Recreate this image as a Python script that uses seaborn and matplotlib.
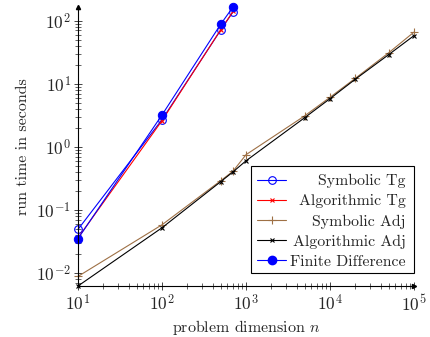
import numpy as np
import pandas as pd
import matplotlib
matplotlib.use("Agg")
import matplotlib.pyplot as plt
from matplotlib.lines import Line2D
from matplotlib.patches import Rectangle
import seaborn as sns
from matplotlib.ticker import LogLocator, NullFormatter, LogFormatterMathtext

# ---- data ----
n_tg = [10, 100, 500, 700]
symbolic_tg = [0.049, 2.7, 71, 138]
algorithmic_tg = [0.036, 2.6, 72, 140]
finite_diff = [0.035, 3.2, 88, 165]

n_adj = [10, 100, 500, 700, 1000, 5000, 10000, 20000, 50000, 100000]
symbolic_adj = [0.0088, 0.058, 0.29, 0.41, 0.75, 3.1, 6.1, 12.2, 31, 66]
algorithmic_adj = [0.0062, 0.052, 0.28, 0.40, 0.60, 2.9, 5.8, 11.8, 29, 58]

labels = ["Symbolic Tg", "Algorithmic Tg", "Symbolic Adj", "Algorithmic Adj", "Finite Difference"]

sns.set_style("white")
plt.rcParams["font.family"] = ["cmr10", "DejaVu Serif"]
plt.rcParams["mathtext.fontset"] = "cm"
plt.rcParams["axes.unicode_minus"] = False
plt.rcParams["axes.formatter.use_mathtext"] = True

W, H = 430, 337
fig = plt.figure(figsize=(W/100, H/100), dpi=100)
ax = fig.add_axes([78/W, 1-286/H, (414-78)/W, (286-7)/H])

brown = (0.62, 0.44, 0.27)
lw = 0.8
styles = [
    dict(color="blue", marker="o", markersize=5.5, markerfacecolor="none", markeredgecolor="blue", markeredgewidth=0.8),
    dict(color="red", marker="x", markersize=3.5, markeredgecolor="red", markeredgewidth=0.8),
    dict(color=brown, marker="+", markersize=6, markeredgecolor=brown, markeredgewidth=0.8),
    dict(color="black", marker="x", markersize=3.5, markeredgecolor="black", markeredgewidth=0.8),
    dict(color="blue", marker="o", markersize=6, markerfacecolor="blue", markeredgecolor="blue"),
]
series = [(n_tg, symbolic_tg), (n_tg, algorithmic_tg), (n_adj, symbolic_adj),
          (n_adj, algorithmic_adj), (n_tg, finite_diff)]

for (xs, ys), st in zip(series, styles):
    sns.lineplot(x=xs, y=ys, ax=ax, linewidth=lw, clip_on=False, legend=False, **st)

ax.set_xscale("log")
ax.set_yscale("log")
ax.set_xlim(10, 1e5)
ax.set_ylim(0.0062, 165)

for s in ["top", "right"]:
    ax.spines[s].set_visible(False)
for s in ["left", "bottom"]:
    ax.spines[s].set_linewidth(0.8)
    ax.spines[s].set_color("black")

ax.plot(1, 0, ">k", markersize=3, transform=ax.transAxes, clip_on=False)
ax.plot(0, 1, "^k", markersize=3, transform=ax.transAxes, clip_on=False)

ax.xaxis.set_major_locator(LogLocator(base=10, numticks=10))
ax.yaxis.set_major_locator(LogLocator(base=10, numticks=10))
ax.xaxis.set_minor_locator(LogLocator(base=10, subs=np.arange(2, 10), numticks=20))
ax.yaxis.set_minor_locator(LogLocator(base=10, subs=np.arange(2, 10), numticks=20))
ax.xaxis.set_minor_formatter(NullFormatter())
ax.yaxis.set_minor_formatter(NullFormatter())
ax.xaxis.set_major_formatter(LogFormatterMathtext())
ax.yaxis.set_major_formatter(LogFormatterMathtext())
ax.tick_params(which="major", direction="inout", length=6, width=0.6, labelsize=12.5, pad=2)
ax.tick_params(which="minor", direction="inout", length=4, width=0.5)
ax.tick_params(axis="y", which="both", left=True)
ax.tick_params(axis="x", which="both", bottom=True)

ax.set_xlabel("problem dimension $n$", fontsize=11.5, labelpad=3)
ax.set_ylabel("run time in seconds", fontsize=11.5, labelpad=4)

# ---- legend (pgfplots style: sample left, text right-aligned) ----
tf = fig.transFigure
fx = lambda px: px / W
fy = lambda py: 1 - py / H
box = Rectangle((fx(251), fy(273)), fx(414) - fx(251), fy(166) - fy(273),
                transform=tf, facecolor="white", edgecolor="black", linewidth=0.8, zorder=10)
fig.add_artist(box)
row_y = [179.5, 199.7, 219.9, 240.1, 260.3]
for lab, st, py in zip(labels, styles, row_y):
    fig.add_artist(Line2D([fx(257), fx(286)], [fy(py), fy(py)], transform=tf,
                          linewidth=lw, color=st["color"], zorder=11))
    fig.add_artist(Line2D([fx(271.5)], [fy(py)], transform=tf, linestyle="none", zorder=12, **st))
    fig.text(fx(406), fy(py), lab, ha="right", va="center_baseline", fontsize=11.4, zorder=12)

fig.savefig("out.png", dpi=100)
